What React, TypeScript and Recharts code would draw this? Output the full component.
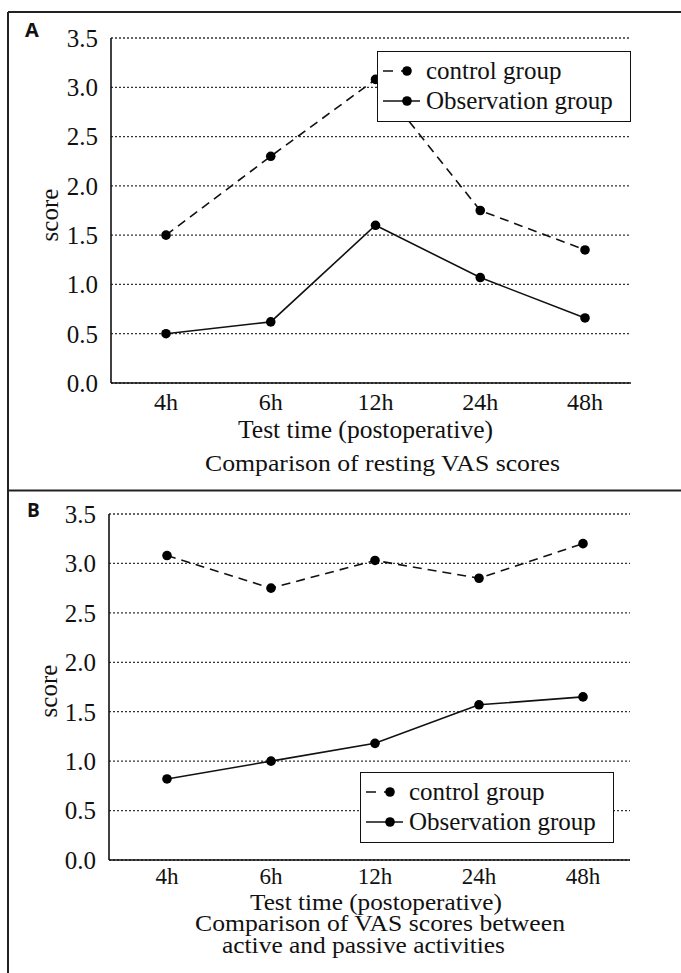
import React from 'react'
import { LineChart, Line, XAxis, YAxis, CartesianGrid, Legend } from 'recharts'

const times = ['4h', '6h', '12h', '24h', '48h']
const restControl = [1.5, 2.3, 3.08, 1.75, 1.35]
const restObservation = [0.5, 0.62, 1.6, 1.07, 0.66]
const activeControl = [3.08, 2.75, 3.03, 2.85, 3.2]
const activeObservation = [0.82, 1.0, 1.18, 1.57, 1.65]
const scoreTicks = [0, 0.5, 1, 1.5, 2, 2.5, 3, 3.5]
const seriesNames = ['control group', 'Observation group']

const SERIF = '"Liberation Serif", "Times New Roman", serif'
const INK = '#111'

const restData = times.map((t, i) => ({ time: t, control: restControl[i], observation: restObservation[i] }))
const activeData = times.map((t, i) => ({ time: t, control: activeControl[i], observation: activeObservation[i] }))

function LegendBox() {
  return (
    <div
      style={{
        position: 'relative',
        width: 254,
        height: 71,
        boxSizing: 'border-box',
        border: `1.5px solid ${INK}`,
        background: '#fff',
        fontFamily: SERIF,
        fontSize: 25,
        color: INK,
      }}
    >
      {seriesNames.map((name, i) => (
        <div
          key={name}
          style={{ position: 'absolute', left: 0, top: 4 + i * 30, height: 30, display: 'flex', alignItems: 'center' }}
        >
          <svg width={48} height={30} style={{ flexShrink: 0 }}>
            {i === 0 ? (
              <line x1={5} y1={15} x2={36} y2={15} stroke={INK} strokeWidth={1.6} strokeDasharray="10 8" />
            ) : (
              <line x1={5} y1={15} x2={42} y2={15} stroke={INK} strokeWidth={1.6} />
            )}
            <circle cx={29} cy={15} r={4.8} fill="#000" />
          </svg>
          <span style={{ lineHeight: '30px', whiteSpace: 'nowrap', fontFamily: SERIF }}>{name}</span>
        </div>
      ))}
    </div>
  )
}

interface PanelProps {
  data: { time: string; control: number; observation: number }[]
  height: number
  top: number
  yWidth: number
  right: number
  xHeight: number
  xFont: number
  xMargin: number
  pad: { left: number; right: number }
  legendAt: { left: number; top: number }
}

function Panel({ data, height, top, yWidth, right, xHeight, xFont, xMargin, pad, legendAt }: PanelProps) {
  const axisLine = { stroke: INK, strokeWidth: 1.6 }
  return (
    <LineChart
      width={681}
      height={height}
      data={data}
      margin={{ top, right, left: 0, bottom: 0 }}
      style={{ fontFamily: SERIF }}
    >
      <CartesianGrid vertical={false} stroke="#333" strokeWidth={1.3} strokeDasharray="2 2" />
      <XAxis
        dataKey="time"
        scale="point"
        padding={pad}
        height={xHeight}
        axisLine={axisLine}
        tickLine={false}
        tickSize={0}
        tickMargin={xMargin}
        tick={{ fontSize: xFont, fill: INK, fontFamily: SERIF }}
      />
      <XAxis
        xAxisId="top"
        orientation="top"
        dataKey="time"
        scale="point"
        padding={pad}
        height={0}
        axisLine={axisLine}
        tick={false}
        tickLine={false}
      />
      <YAxis
        domain={[0, 3.5]}
        ticks={scoreTicks}
        width={yWidth}
        axisLine={axisLine}
        tickLine={false}
        tickSize={0}
        tickMargin={13}
        tickFormatter={(v: number) => v.toFixed(1)}
        tick={{ fontSize: 25, fill: INK, fontFamily: SERIF }}
      />
      <YAxis
        yAxisId="right"
        orientation="right"
        domain={[0, 3.5]}
        width={0}
        axisLine={axisLine}
        tick={false}
        tickLine={false}
      />
      <Line
        dataKey="control"
        name={seriesNames[0]}
        stroke={INK}
        strokeWidth={1.6}
        strokeDasharray="9 6"
        dot={{ r: 4.8, fill: '#000', stroke: '#000', strokeWidth: 0 }}
        activeDot={false}
        isAnimationActive={false}
      />
      <Line
        dataKey="observation"
        name={seriesNames[1]}
        stroke={INK}
        strokeWidth={1.6}
        dot={{ r: 4.8, fill: '#000', stroke: '#000', strokeWidth: 0 }}
        activeDot={false}
        isAnimationActive={false}
      />
      <Legend
        layout="horizontal"
        verticalAlign="middle"
        align="center"
        wrapperStyle={{ left: legendAt.left, top: legendAt.top, width: 254, height: 71 }}
        content={() => <LegendBox />}
      />
    </LineChart>
  )
}

export default function App() {
  const txt = { fill: INK, style: { fontFamily: SERIF } }
  return (
    <div
      style={{
        position: 'absolute',
        left: 0,
        top: 0,
        width: 681,
        height: 973,
        background: '#fff',
        overflow: 'hidden',
        fontFamily: SERIF,
      }}
    >
      <div style={{ position: 'absolute', left: 0, top: 0 }}>
        <Panel
          data={restData}
          height={490}
          top={38}
          yWidth={111}
          right={50}
          xHeight={107}
          xFont={24}
          xMargin={10}
          pad={{ left: 55, right: 46 }}
          legendAt={{ left: 377, top: 51 }}
        />
      </div>
      <div style={{ position: 'absolute', left: 0, top: 491 }}>
        <Panel
          data={activeData}
          height={482}
          top={23}
          yWidth={109}
          right={51}
          xHeight={113}
          xFont={23}
          xMargin={8}
          pad={{ left: 58, right: 47 }}
          legendAt={{ left: 360, top: 281 }}
        />
      </div>
      <svg width={681} height={973} style={{ position: 'absolute', left: 0, top: 0, pointerEvents: 'none' }}>
        <line x1={8} y1={12} x2={681} y2={12} stroke="#222" strokeWidth={2} />
        <line x1={8} y1={12} x2={8} y2={973} stroke="#222" strokeWidth={2} />
        <line x1={8} y1={490.5} x2={681} y2={490.5} stroke="#222" strokeWidth={2} />

        <text x={25} y={37} fontWeight="bold" fontSize={20} fill={INK} style={{ fontFamily: '"Open Sans", "Liberation Sans", sans-serif' }}>A</text>
        <text x={27} y={517} fontWeight="bold" fontSize={19} fill={INK} style={{ fontFamily: '"Open Sans", "Liberation Sans", sans-serif' }}>B</text>

        <text transform="translate(58,215) rotate(-90)" textAnchor="middle" fontSize={25} {...txt}>score</text>
        <text transform="translate(57,691) rotate(-90)" textAnchor="middle" fontSize={25} {...txt}>score</text>

        <text x={238} y={438} fontSize={25} textLength={255} lengthAdjust="spacingAndGlyphs" {...txt}>Test time (postoperative)</text>
        <text x={205} y={471} fontSize={24} textLength={355} lengthAdjust="spacingAndGlyphs" {...txt}>Comparison of resting VAS scores</text>

        <text x={250} y={910} fontSize={23} textLength={252} lengthAdjust="spacingAndGlyphs" {...txt}>Test time (postoperative)</text>
        <text x={195} y={931} fontSize={23} textLength={370} lengthAdjust="spacingAndGlyphs" {...txt}>Comparison of VAS scores between</text>
        <text x={222} y={953} fontSize={23} textLength={283} lengthAdjust="spacingAndGlyphs" {...txt}>active and passive activities</text>
      </svg>
    </div>
  )
}
